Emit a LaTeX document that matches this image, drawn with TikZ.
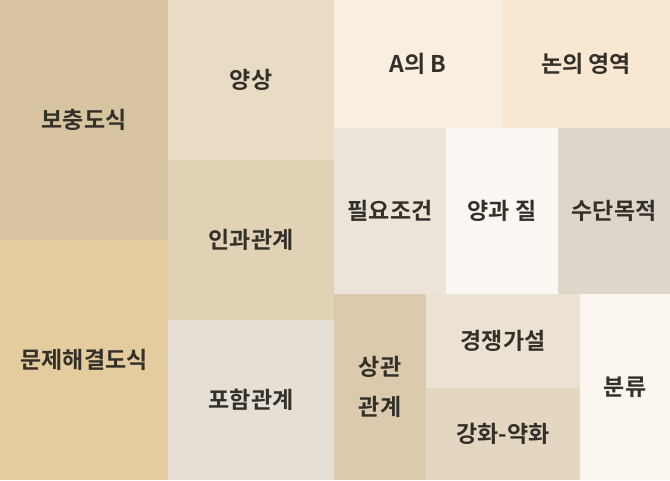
\documentclass[tikz,border=0pt]{standalone}
\usepackage{fontspec}
\setmainfont{Noto Sans CJK KR}[BoldFont={* Bold}]
\definecolor{txt}{HTML}{333029}
\definecolor{cA}{HTML}{D8C4A0}
\definecolor{cB}{HTML}{E5CC9E}
\definecolor{cC}{HTML}{E8DCC4}
\definecolor{cD}{HTML}{E1D2B6}
\definecolor{cE}{HTML}{E5DFD6}
\definecolor{cF}{HTML}{F8EFE0}
\definecolor{cG}{HTML}{F8E8D2}
\definecolor{cH}{HTML}{EDE4D9}
\definecolor{cI}{HTML}{FBF8F3}
\definecolor{cJ}{HTML}{DED6CB}
\definecolor{cK}{HTML}{DBCAAD}
\definecolor{cL}{HTML}{ECE2D3}
\definecolor{cM}{HTML}{E3D7C2}
\definecolor{cN}{HTML}{FAF5EF}
\tikzset{
  tile/.style={inner sep=0pt, outer sep=0pt},
  lbl/.style={text=txt, font=\fontsize{23}{40}\selectfont\bfseries, align=center, inner sep=0pt}
}
\newcommand{\tilebox}[6]{% name, x1, y1, x2, y2, color
  \fill[#6] (#2,#3) rectangle (#4,#5);
  \coordinate (#1) at ({(#2+#4)/2},{(#3+#5)/2});
}
\begin{document}
\begin{tikzpicture}[x=1pt,y=-1pt]
\useasboundingbox (0,0) rectangle (670,480);
\tilebox{t1}{0}{0}{168}{240}{cA}
\tilebox{t2}{0}{240}{168}{480}{cB}
\tilebox{t3}{168}{0}{334}{160}{cC}
\tilebox{t4}{168}{160}{334}{320}{cD}
\tilebox{t5}{168}{320}{334}{480}{cE}
\tilebox{t6}{334}{0}{502}{128}{cF}
\tilebox{t7}{502}{0}{670}{128}{cG}
\tilebox{t8}{334}{128}{446}{294}{cH}
\tilebox{t9}{446}{128}{558}{294}{cI}
\tilebox{t10}{558}{128}{670}{294}{cJ}
\tilebox{t11}{334}{294}{426}{480}{cK}
\tilebox{t12}{426}{294}{580}{388}{cL}
\tilebox{t13}{426}{388}{580}{480}{cM}
\tilebox{t14}{580}{294}{670}{480}{cN}
\node[lbl] (n1) at (t1) {보충도식};
\node[lbl] (n2) at (t2) {문제해결도식};
\node[lbl] (n3) at (t3) {양상};
\node[lbl] (n4) at (t4) {인과관계};
\node[lbl] (n5) at (t5) {포함관계};
\node[lbl] (n6) at (t6) {A의 B};
\node[lbl] (n7) at (t7) {논의 영역};
\node[lbl] (n8) at (t8) {필요조건};
\node[lbl] (n9) at (t9) {양과 질};
\node[lbl] (n10) at (t10) {수단목적};
\node[lbl] (n11) at (t11) {상관\\관계};
\node[lbl] (n12) at (t12) {경쟁가설};
\node[lbl] (n13) at (t13) {강화-약화};
\node[lbl] (n14) at (t14) {분류};
\end{tikzpicture}
\end{document}
